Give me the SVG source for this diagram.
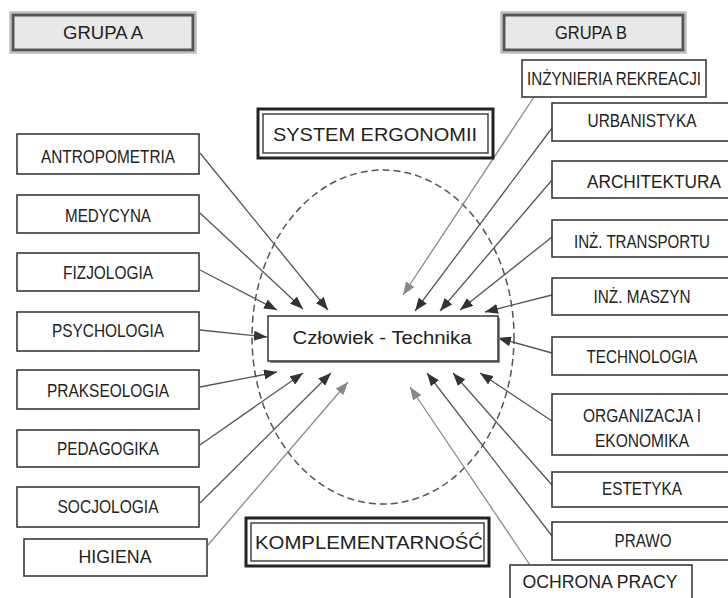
<svg xmlns="http://www.w3.org/2000/svg" width="728" height="598" viewBox="0 0 728 598">
<style>
.bx{fill:#fff;stroke:#3a3a3a;stroke-width:1.6}
.lb{font-family:"Liberation Sans",Arial,sans-serif;font-size:18.5px;fill:#222;text-anchor:middle}
.c{stroke:#555;stroke-width:1.3;fill:none;marker-end:url(#ad)}
.g{stroke:#8a8a8a;stroke-width:1.3;fill:none;marker-end:url(#ag)}
</style>
<defs>
<marker id="ad" markerUnits="userSpaceOnUse" markerWidth="14" markerHeight="10" refX="13" refY="5" orient="auto"><path d="M0,0 L13,5 L0,10 z" fill="#333"/></marker>
<marker id="ag" markerUnits="userSpaceOnUse" markerWidth="14" markerHeight="10" refX="13" refY="5" orient="auto"><path d="M0,0 L13,5 L0,10 z" fill="#888"/></marker>
</defs>
<rect width="728" height="598" fill="#fff"/>

<ellipse cx="383" cy="337" rx="131" ry="167" fill="none" stroke="#555" stroke-width="1.5" stroke-dasharray="7,4"/>

<g id="connectors">
<line class="c" x1="200" y1="153" x2="328" y2="310"/>
<line class="c" x1="200" y1="213" x2="303" y2="309"/>
<line class="c" x1="200" y1="270" x2="277" y2="310"/>
<line class="c" x1="200" y1="330" x2="267" y2="337"/>
<line class="c" x1="200" y1="387" x2="277" y2="372"/>
<line class="c" x1="200" y1="445" x2="303" y2="373"/>
<line class="c" x1="200" y1="503" x2="331" y2="373"/>
<line class="g" x1="208" y1="545" x2="348" y2="382"/>
<line class="g" x1="534" y1="97" x2="403" y2="295"/>
<line class="c" x1="552" y1="128" x2="415" y2="311"/>
<line class="c" x1="552" y1="180" x2="440" y2="311"/>
<line class="c" x1="552" y1="237" x2="460" y2="310"/>
<line class="c" x1="552" y1="295" x2="485" y2="312"/>
<line class="c" x1="552" y1="353" x2="498" y2="338"/>
<line class="c" x1="552" y1="421" x2="480" y2="373"/>
<line class="c" x1="552" y1="485" x2="453" y2="373"/>
<line class="c" x1="552" y1="536" x2="427" y2="373"/>
<line class="g" x1="530" y1="565" x2="410" y2="387"/>
</g>

<g id="grupa-a">
<rect x="10" y="12" width="186" height="41" fill="#e8e8e8" stroke="#9a9a9a" stroke-width="1"/>
<rect x="13" y="15" width="180" height="35" fill="none" stroke="#555" stroke-width="3"/>
<text class="lb" x="103" y="39" font-size="16" textLength="80" lengthAdjust="spacingAndGlyphs">GRUPA A</text>
</g>
<g id="grupa-b">
<rect x="501" y="12" width="185" height="41" fill="#e8e8e8" stroke="#9a9a9a" stroke-width="1"/>
<rect x="504" y="15" width="179" height="35" fill="none" stroke="#555" stroke-width="3"/>
<text class="lb" x="591" y="39" font-size="16" textLength="72" lengthAdjust="spacingAndGlyphs">GRUPA B</text>
</g>

<g id="system-ergonomii">
<rect x="258" y="109" width="235" height="49" fill="#fff" stroke="#222" stroke-width="3"/>
<rect x="263" y="114" width="225" height="39" fill="none" stroke="#444" stroke-width="1.5"/>
<text class="lb" x="375" y="141" font-size="19" fill="#111" textLength="204" lengthAdjust="spacingAndGlyphs">SYSTEM ERGONOMII</text>
</g>
<g id="komplementarnosc">
<rect x="246" y="518" width="243" height="48" fill="#fff" stroke="#222" stroke-width="3"/>
<rect x="251" y="523" width="233" height="38" fill="none" stroke="#444" stroke-width="1.5"/>
<text class="lb" x="369" y="549" font-size="19" fill="#111" textLength="228" lengthAdjust="spacingAndGlyphs">KOMPLEMENTARNOŚĆ</text>
</g>

<g id="czlowiek-technika">
<rect x="270" y="318" width="230" height="45" fill="#888"/>
<rect x="268" y="316" width="230" height="45" fill="#fff" stroke="#333" stroke-width="1.5"/>
<text class="lb" x="382" y="344" font-size="19.5" fill="#111" textLength="179" lengthAdjust="spacingAndGlyphs">Człowiek - Technika</text>
</g>

<g id="antropometria"><rect class="bx" x="17" y="134" width="182" height="40"/><text class="lb" x="108" y="163" textLength="134" lengthAdjust="spacingAndGlyphs">ANTROPOMETRIA</text></g>
<g id="medycyna"><rect class="bx" x="17" y="195" width="182" height="38"/><text class="lb" x="108" y="222" textLength="86" lengthAdjust="spacingAndGlyphs">MEDYCYNA</text></g>
<g id="fizjologia"><rect class="bx" x="17" y="253" width="182" height="38"/><text class="lb" x="108" y="279" textLength="90" lengthAdjust="spacingAndGlyphs">FIZJOLOGIA</text></g>
<g id="psychologia"><rect class="bx" x="17" y="312" width="182" height="39"/><text class="lb" x="108" y="337" textLength="112" lengthAdjust="spacingAndGlyphs">PSYCHOLOGIA</text></g>
<g id="prakseologia"><rect class="bx" x="17" y="370" width="182" height="39"/><text class="lb" x="108" y="397" textLength="122" lengthAdjust="spacingAndGlyphs">PRAKSEOLOGIA</text></g>
<g id="pedagogika"><rect class="bx" x="17" y="430" width="182" height="37"/><text class="lb" x="108" y="455" textLength="102" lengthAdjust="spacingAndGlyphs">PEDAGOGIKA</text></g>
<g id="socjologia"><rect class="bx" x="17" y="487" width="182" height="40"/><text class="lb" x="108" y="513" textLength="101" lengthAdjust="spacingAndGlyphs">SOCJOLOGIA</text></g>
<g id="higiena"><rect class="bx" x="24" y="539" width="183" height="37"/><text class="lb" x="115" y="563" font-size="16.5" textLength="73" lengthAdjust="spacingAndGlyphs">HIGIENA</text></g>

<g id="inzynieria-rekreacji"><rect class="bx" x="522" y="60" width="184" height="37"/><text class="lb" x="614" y="85" font-size="16" textLength="174" lengthAdjust="spacingAndGlyphs">INŻYNIERIA REKREACJI</text></g>
<g id="urbanistyka"><rect class="bx" x="552" y="103" width="190" height="38"/><text class="lb" x="642" y="127" textLength="109" lengthAdjust="spacingAndGlyphs">URBANISTYKA</text></g>
<g id="architektura"><rect class="bx" x="552" y="161" width="190" height="37"/><text class="lb" x="654" y="188" font-size="16.5" textLength="134" lengthAdjust="spacingAndGlyphs">ARCHITEKTURA</text></g>
<g id="inz-transportu"><rect class="bx" x="552" y="220" width="190" height="37"/><text class="lb" x="642" y="248" font-size="18" textLength="136" lengthAdjust="spacingAndGlyphs">INŻ. TRANSPORTU</text></g>
<g id="inz-maszyn"><rect class="bx" x="552" y="278" width="190" height="37"/><text class="lb" x="642" y="303" textLength="97" lengthAdjust="spacingAndGlyphs">INŻ. MASZYN</text></g>
<g id="technologia"><rect class="bx" x="552" y="337" width="190" height="38"/><text class="lb" x="642" y="363" textLength="111" lengthAdjust="spacingAndGlyphs">TECHNOLOGIA</text></g>
<g id="organizacja"><rect class="bx" x="552" y="394" width="190" height="61"/><text class="lb" x="642" y="422" textLength="118" lengthAdjust="spacingAndGlyphs">ORGANIZACJA I</text><text class="lb" x="642" y="447" textLength="94" lengthAdjust="spacingAndGlyphs">EKONOMIKA</text></g>
<g id="estetyka"><rect class="bx" x="552" y="472" width="190" height="35"/><text class="lb" x="642" y="495" textLength="80" lengthAdjust="spacingAndGlyphs">ESTETYKA</text></g>
<g id="prawo"><rect class="bx" x="552" y="522" width="190" height="38"/><text class="lb" x="643" y="547" textLength="57" lengthAdjust="spacingAndGlyphs">PRAWO</text></g>
<g id="ochrona-pracy"><rect class="bx" x="510" y="565" width="182" height="40"/><text class="lb" x="600" y="588" font-size="16.5" textLength="155" lengthAdjust="spacingAndGlyphs">OCHRONA PRACY</text></g>
</svg>
